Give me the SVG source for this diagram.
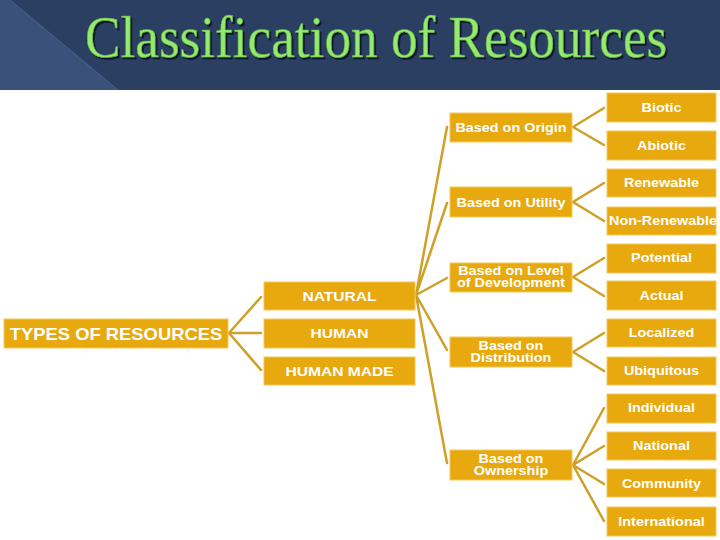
<svg xmlns="http://www.w3.org/2000/svg" width="720" height="540" viewBox="0 0 720 540">
<defs>
<filter id="sh" x="-5%" y="-20%" width="110%" height="140%">
<feDropShadow dx="2" dy="2" stdDeviation="0.6" flood-color="#10182C" flood-opacity="1"/>
</filter>
<style>
.box{fill:#E8A90E;stroke:#F3C75A;stroke-width:1}
.t{font-family:"Liberation Sans",Arial,sans-serif;font-weight:bold;fill:#FFFFFF;text-anchor:middle}
.l1{font-size:13px}
.l0{font-size:16px}
.l2{font-size:12px}
.l3{font-size:12px}
.c{stroke:#CFA028;stroke-width:2.5;fill:none;stroke-linecap:round}
</style>
</defs>
<rect x="0" y="0" width="720" height="540" fill="#FFFFFF"/>
<g id="header">
<rect x="0" y="0" width="720" height="90" fill="#2B3F63"/>
<polygon points="0,0 10,0 118,90 0,90" fill="#3A517A"/>
<line x1="10" y1="0" x2="118" y2="90" stroke="#4A6290" stroke-width="1"/>
<text transform="translate(85,57) scale(0.887,1)" font-family="Liberation Serif,'Times New Roman',serif" font-size="60" fill="#93EA6C" stroke="#5FA845" stroke-width="0.6" filter="url(#sh)">Classification of Resources</text>
</g>
<g id="connectors">
<path class="c" d="M229,333 L261,297 M229,333 L261,333 M229,333 L261,370"/>
<path class="c" d="M416,295 L447,127 M416,295 L447,203 M416,295 L447,278 M416,295 L447,350 M416,295 L447,463"/>
<path class="c" d="M573,127 L604,108 M573,127 L604,145"/>
<path class="c" d="M573,202 L604,183 M573,202 L604,221"/>
<path class="c" d="M573,277 L604,258 M573,277 L604,296"/>
<path class="c" d="M573,352 L604,333 M573,352 L604,371"/>
<path class="c" d="M573,465 L604,408 M573,465 L604,446 M573,465 L604,484 M573,465 L604,521"/>
</g>
<g id="n-types"><rect class="box" x="4" y="319" width="224" height="29"/><text class="t l0" transform="translate(116,339.5) scale(1.15,1)">TYPES OF RESOURCES</text></g>
<g id="n-natural"><rect class="box" x="264" y="282" width="151" height="28"/><text class="t l1" transform="translate(339.5,300.5) scale(1.2,1)">NATURAL</text></g>
<g id="n-human"><rect class="box" x="264" y="319" width="151" height="29"/><text class="t l1" transform="translate(339.5,338) scale(1.2,1)">HUMAN</text></g>
<g id="n-humanmade"><rect class="box" x="264" y="357" width="151" height="28"/><text class="t l1" transform="translate(339.5,375.5) scale(1.2,1)">HUMAN MADE</text></g>

<g id="n-origin"><rect class="box" x="450" y="113" width="122" height="29"/><text class="t l2" transform="translate(511,131.5) scale(1.2,1)">Based on Origin</text></g>
<g id="n-utility"><rect class="box" x="450" y="187" width="122" height="30"/><text class="t l2" transform="translate(511,206.5) scale(1.2,1)">Based on Utility</text></g>
<g id="n-level"><rect class="box" x="450" y="263" width="122" height="29"/><text class="t l2" transform="translate(511,274.5) scale(1.2,1)">Based on Level</text><text class="t l2" transform="translate(511,287) scale(1.2,1)">of Development</text></g>
<g id="n-distribution"><rect class="box" x="450" y="337" width="122" height="30"/><text class="t l2" transform="translate(511,349.5) scale(1.2,1)">Based on</text><text class="t l2" transform="translate(511,362) scale(1.2,1)">Distribution</text></g>
<g id="n-ownership"><rect class="box" x="450" y="450" width="122" height="30"/><text class="t l2" transform="translate(511,462.5) scale(1.2,1)">Based on</text><text class="t l2" transform="translate(511,475) scale(1.2,1)">Ownership</text></g>

<g id="n-biotic"><rect class="box" x="607" y="93" width="109" height="29"/><text class="t l3" transform="translate(661.5,111.5) scale(1.2,1)">Biotic</text></g>
<g id="n-abiotic"><rect class="box" x="607" y="131" width="109" height="29"/><text class="t l3" transform="translate(661.5,149.5) scale(1.2,1)">Abiotic</text></g>
<g id="n-renewable"><rect class="box" x="607" y="169" width="109" height="28"/><text class="t l3" transform="translate(661.5,187) scale(1.2,1)">Renewable</text></g>
<g id="n-nonrenewable"><rect class="box" x="607" y="207" width="109" height="28"/><text class="t l3" transform="translate(663,225) scale(1.2,1)">Non-Renewable</text></g>
<g id="n-potential"><rect class="box" x="607" y="244" width="109" height="29"/><text class="t l3" transform="translate(661.5,262) scale(1.2,1)">Potential</text></g>
<g id="n-actual"><rect class="box" x="607" y="281" width="109" height="29"/><text class="t l3" transform="translate(661.5,299.5) scale(1.2,1)">Actual</text></g>
<g id="n-localized"><rect class="box" x="607" y="319" width="109" height="28"/><text class="t l3" transform="translate(661.5,337) scale(1.2,1)">Localized</text></g>
<g id="n-ubiquitous"><rect class="box" x="607" y="357" width="109" height="28"/><text class="t l3" transform="translate(661.5,375) scale(1.2,1)">Ubiquitous</text></g>
<g id="n-individual"><rect class="box" x="607" y="394" width="109" height="29"/><text class="t l3" transform="translate(661.5,412) scale(1.2,1)">Individual</text></g>
<g id="n-national"><rect class="box" x="607" y="432" width="109" height="28"/><text class="t l3" transform="translate(661.5,450) scale(1.2,1)">National</text></g>
<g id="n-community"><rect class="box" x="607" y="469" width="109" height="28"/><text class="t l3" transform="translate(661.5,487.5) scale(1.2,1)">Community</text></g>
<g id="n-international"><rect class="box" x="607" y="507" width="109" height="29"/><text class="t l3" transform="translate(661.5,525.5) scale(1.2,1)">International</text></g>
</svg>
